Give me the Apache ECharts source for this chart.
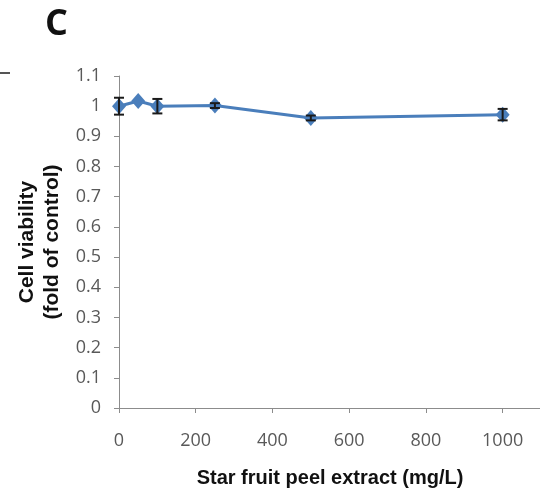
<!DOCTYPE html>
<html>
<head>
<meta charset="utf-8">
<script src="https://cdn.jsdelivr.net/npm/echarts@6/dist/echarts.min.js"></script>
<style>html,body{margin:0;padding:0;background:#fff;}#c{width:540px;height:493px;}</style>
</head>
<body>
<div id="c"></div>
<script>
var concentrations = [0, 50, 100, 250, 500, 1000];
var viability = [1.0, 1.017, 1.0, 1.002, 0.961, 0.972];
var errors = [0.028, 0.0, 0.024, 0.008, 0.008, 0.019];
var xTicks = [0, 200, 400, 600, 800, 1000];
var yTicks = [0, 0.1, 0.2, 0.3, 0.4, 0.5, 0.6, 0.7, 0.8, 0.9, 1, 1.1];

var chart = echarts.init(document.getElementById('c'), null, {renderer: 'canvas'});
var lineData = concentrations.map(function (x, i) { return [x, viability[i]]; });
var errData = concentrations.map(function (x, i) { return [x, viability[i] - errors[i], viability[i] + errors[i]]; });

chart.setOption({
  backgroundColor: '#ffffff',
  animation: false,
  title: {
    text: 'C', left: 40, top: 2,
    textStyle: {fontFamily: 'Open Sans', fontWeight: 'bold', fontSize: 36, color: '#111'}
  },
  graphic: [{
    type: 'line', shape: {x1: 0, y1: 73, x2: 10, y2: 73},
    style: {stroke: '#555', lineWidth: 2}
  }],
  grid: {left: 119, right: -1, top: 76, bottom: 85, containLabel: false, outerBoundsMode: 'none'},
  xAxis: {
    type: 'value', min: 0, max: 1100, interval: 200,
    axisLine: {show: true, lineStyle: {color: '#8c8c8c', width: 1}},
    axisTick: {show: true, length: 5, lineStyle: {color: '#8c8c8c'}},
    axisLabel: {
      margin: 24, color: '#595959', fontSize: 18, fontFamily: 'Open Sans',
      showMaxLabel: false,
      formatter: function (v) { return xTicks.indexOf(v) >= 0 ? String(v) : ''; }
    },
    splitLine: {show: false},
    name: 'Star fruit peel extract (mg/L)', nameLocation: 'middle', nameGap: 60,
    nameTextStyle: {fontFamily: 'Liberation Sans', fontWeight: 'bold', fontSize: 20, color: '#111'}
  },
  yAxis: {
    type: 'value', min: 0, max: 1.1, interval: 0.1,
    axisLine: {show: true, lineStyle: {color: '#8c8c8c', width: 1}},
    axisTick: {show: true, length: 5, lineStyle: {color: '#8c8c8c'}},
    axisLabel: {
      margin: 18, color: '#595959', fontSize: 18, fontFamily: 'Open Sans',
      formatter: function (v) {
        var r = Math.round(v * 10) / 10;
        return yTicks.indexOf(r) >= 0 ? String(r) : '';
      }
    },
    splitLine: {show: false},
    name: 'Cell viability\n(fold of control)', nameLocation: 'middle', nameGap: 54, nameRotate: 90,
    nameTextStyle: {fontFamily: 'Liberation Sans', fontWeight: 'bold', fontSize: 21, color: '#111', lineHeight: 25}
  },
  series: [{
    type: 'line', data: lineData,
    symbol: 'diamond', symbolSize: [14, 16],
    lineStyle: {color: '#4a7ebb', width: 3},
    itemStyle: {color: '#4a7ebb'},
    z: 2
  }, {
    type: 'custom', data: errData, z: 3,
    renderItem: function (params, api) {
      var x = api.value(0);
      var lo = api.coord([x, api.value(1)]);
      var hi = api.coord([x, api.value(2)]);
      if (Math.abs(hi[1] - lo[1]) < 1) return null;
      var w = 5;
      var st = {stroke: '#1a1a1a', lineWidth: 2};
      return {type: 'group', children: [
        {type: 'line', shape: {x1: lo[0], y1: lo[1], x2: hi[0], y2: hi[1]}, style: st},
        {type: 'line', shape: {x1: lo[0] - w, y1: lo[1], x2: lo[0] + w, y2: lo[1]}, style: st},
        {type: 'line', shape: {x1: hi[0] - w, y1: hi[1], x2: hi[0] + w, y2: hi[1]}, style: st}
      ]};
    }
  }]
});
</script>
</body>
</html>
